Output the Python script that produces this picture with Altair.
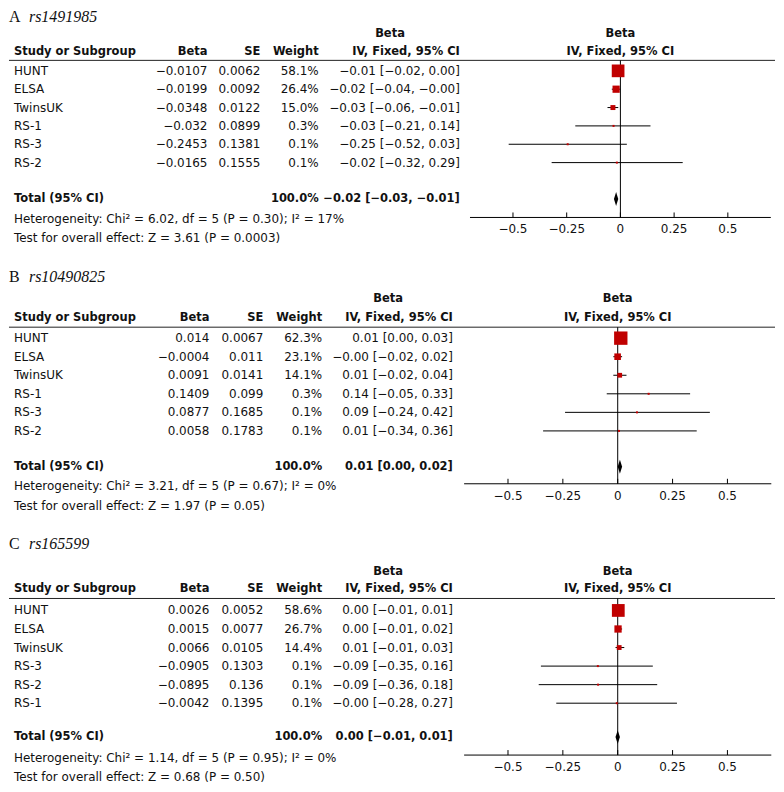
import altair as alt
import pandas as pd

# ---------------- data ----------------
# Panel A  rs1491985
studies_A = ["HUNT", "ELSA", "TwinsUK", "RS-1", "RS-3", "RS-2"]
beta_A = [-0.0107, -0.0199, -0.0348, -0.032, -0.2453, -0.0165]
se_A = [0.0062, 0.0092, 0.0122, 0.0899, 0.1381, 0.1555]
weight_A = [58.1, 26.4, 15.0, 0.3, 0.1, 0.1]
est_A = [-0.01, -0.02, -0.03, -0.03, -0.25, -0.02]
lo_A = [-0.02, -0.04, -0.06, -0.21, -0.52, -0.32]
hi_A = [0.00, -0.00, -0.01, 0.14, 0.03, 0.29]
total_A = [-0.02, -0.03, -0.01]
het_A = "Heterogeneity: Chi² = 6.02, df = 5 (P = 0.30); I² = 17%"
test_A = "Test for overall effect: Z = 3.61 (P = 0.0003)"

# Panel B  rs10490825
studies_B = ["HUNT", "ELSA", "TwinsUK", "RS-1", "RS-3", "RS-2"]
beta_B = [0.014, -0.0004, 0.0091, 0.1409, 0.0877, 0.0058]
se_B = [0.0067, 0.011, 0.0141, 0.099, 0.1685, 0.1783]
weight_B = [62.3, 23.1, 14.1, 0.3, 0.1, 0.1]
est_B = [0.01, -0.00, 0.01, 0.14, 0.09, 0.01]
lo_B = [0.00, -0.02, -0.02, -0.05, -0.24, -0.34]
hi_B = [0.03, 0.02, 0.04, 0.33, 0.42, 0.36]
total_B = [0.01, 0.00, 0.02]
het_B = "Heterogeneity: Chi² = 3.21, df = 5 (P = 0.67); I² = 0%"
test_B = "Test for overall effect: Z = 1.97 (P = 0.05)"

# Panel C  rs165599
studies_C = ["HUNT", "ELSA", "TwinsUK", "RS-3", "RS-2", "RS-1"]
beta_C = [0.0026, 0.0015, 0.0066, -0.0905, -0.0895, -0.0042]
se_C = [0.0052, 0.0077, 0.0105, 0.1303, 0.136, 0.1395]
weight_C = [58.6, 26.7, 14.4, 0.1, 0.1, 0.1]
est_C = [0.00, 0.00, 0.01, -0.09, -0.09, -0.00]
lo_C = [-0.01, -0.01, -0.01, -0.35, -0.36, -0.28]
hi_C = [0.01, 0.02, 0.03, 0.16, 0.18, 0.27]
total_C = [0.00, -0.01, 0.01]
het_C = "Heterogeneity: Chi² = 1.14, df = 5 (P = 0.95); I² = 0%"
test_C = "Test for overall effect: Z = 0.68 (P = 0.50)"

tick_values = [-0.5, -0.25, 0, 0.25, 0.5]
tick_labels = ["−0.5", "−0.25", "0", "0.25", "0.5"]
axis_extent = [-0.7, 0.7]

# ---------------- styling / layout ----------------
SANS = "DejaVu Sans"
SERIF = "Liberation Serif"
FS = 12          # regular text
FSB = 11.5       # bold text
TXT = "#111111"
RED = "#c00000"
W = 768


def m(s):
    return s.replace("-", "−")


def txt(text, x, y, align="left", bold=False, size=None, font=SANS, italic=False):
    if size is None:
        size = FSB if bold else FS
    return alt.Chart(pd.DataFrame({"t": [text]})).mark_text(
        align=align, baseline="middle", fontSize=size, font=font,
        fontWeight="bold" if bold else "normal",
        fontStyle="italic" if italic else "normal", color=TXT,
    ).encode(text="t:N", x=alt.value(x), y=alt.value(y))


def panel(letter, rsid, studies, beta, se, weight, est, lo, hi, total, het, test, L):
    xs = alt.Scale(domain=axis_extent, range=L["fx"], nice=False, zero=False)
    ys = alt.Scale(domain=[0, 1], range=[L["row0"], L["row0"] + L["step"]], nice=False, zero=False)
    total_row = (L["total"] - L["row0"]) / L["step"]

    df = pd.DataFrame({
        "row": list(range(len(studies))),
        "study": studies,
        "beta": beta,
        "lo": lo,
        "hi": hi,
        "weight": weight,
        "beta_s": [m(str(b)) for b in beta],
        "se_s": [str(s) for s in se],
        "w_s": [f"{w:.1f}%" for w in weight],
        "ci_s": [m(f"{e:.2f} [{l:.2f}, {h:.2f}]") for e, l, h in zip(est, lo, hi)],
    })
    Y = alt.Y("row:Q", scale=ys, axis=None)

    layers = []
    # title
    layers.append(txt(letter, L["tx"], L["title"], size=16, font=SERIF))
    layers.append(txt(rsid, L["tx"] + 20, L["title"], size=16, font=SERIF, italic=True))
    # table header
    c = L["cols"]
    layers.append(txt("Beta", c["hdr"], L["h1"], align="center", bold=True))
    layers.append(txt("Study or Subgroup", c["study"], L["h2"], bold=True))
    layers.append(txt("Beta", c["beta"], L["h2"], align="right", bold=True))
    layers.append(txt("SE", c["se"], L["h2"], align="right", bold=True))
    layers.append(txt("Weight", c["w"], L["h2"], align="right", bold=True))
    layers.append(txt("IV, Fixed, 95% CI", c["ci"], L["h2"], align="right", bold=True))
    # forest header centred on zero
    for lab, yy in (("Beta", L["h1"]), ("IV, Fixed, 95% CI", L["h2"])):
        layers.append(
            alt.Chart(pd.DataFrame({"t": [lab]})).mark_text(
                align="center", baseline="middle", fontSize=FSB, font=SANS,
                fontWeight="bold", color=TXT,
            ).encode(text="t:N", x=alt.XDatum(0, scale=xs, axis=None), y=alt.value(yy))
        )
    # header rule
    layers.append(
        alt.Chart(pd.DataFrame({"a": [0]})).mark_rule(color="#222", strokeWidth=1)
        .encode(x=alt.value(0), x2=alt.value(W), y=alt.value(L["rule"]))
    )
    # table rows
    base = alt.Chart(df)
    layers.append(base.mark_text(align="left", baseline="middle", fontSize=FS, font=SANS, color=TXT)
                  .encode(text="study:N", x=alt.value(c["study"]), y=Y))
    for fld, key in (("beta_s", "beta"), ("se_s", "se"), ("w_s", "w"), ("ci_s", "ci")):
        layers.append(base.mark_text(align="right", baseline="middle", fontSize=FS, font=SANS, color=TXT)
                      .encode(text=f"{fld}:N", x=alt.value(c[key]), y=Y))
    # total row & footer text
    tdf = pd.DataFrame({
        "row": [total_row],
        "lab": ["Total (95% CI)"],
        "w": ["100.0%"],
        "ci": [m(f"{total[0]:.2f} [{total[1]:.2f}, {total[2]:.2f}]")],
    })
    tb = alt.Chart(tdf)
    layers.append(tb.mark_text(align="left", baseline="middle", fontSize=FSB, font=SANS, fontWeight="bold", color=TXT)
                  .encode(text="lab:N", x=alt.value(c["study"]), y=Y))
    layers.append(tb.mark_text(align="right", baseline="middle", fontSize=FSB, font=SANS, fontWeight="bold", color=TXT)
                  .encode(text="w:N", x=alt.value(c["w"]), y=Y))
    layers.append(tb.mark_text(align="right", baseline="middle", fontSize=FSB, font=SANS, fontWeight="bold", color=TXT)
                  .encode(text="ci:N", x=alt.value(c["ci"]), y=Y))
    layers.append(txt(het, c["study"], L["het"]))
    layers.append(txt(test, c["study"], L["test"]))

    # zero line
    layers.append(
        alt.Chart(pd.DataFrame({"a": [0]})).mark_rule(color="#000", strokeWidth=1)
        .encode(x=alt.XDatum(0, scale=xs, axis=None), y=alt.value(L["rule"]), y2=alt.value(L["axis"]))
    )
    # CI whiskers
    layers.append(base.mark_rule(color="#000", strokeWidth=1).encode(
        x=alt.X("lo:Q", scale=xs, axis=None), x2="hi:Q", y=Y))
    # squares (area grows with weight)
    layers.append(base.mark_square(color=RED, opacity=1).encode(
        x=alt.X("beta:Q", scale=xs, axis=None), y=Y,
        size=alt.Size("weight:Q", scale=alt.Scale(type="pow", exponent=1.5, domain=[0, 60], range=[4, 170]),
                      legend=None)))
    # diamond for the pooled estimate
    dh = 7.0 / L["step"]
    ddf = pd.DataFrame({
        "x": [total[1], total[0], total[2]],
        "yt": [total_row, total_row - dh, total_row],
        "yb": [total_row, total_row + dh, total_row],
    })
    layers.append(alt.Chart(ddf).mark_area(color="#000", orient="vertical", opacity=1).encode(
        x=alt.X("x:Q", scale=xs, axis=None),
        y=alt.Y("yt:Q", scale=ys, axis=None, stack=None), y2="yb:Q"))
    # axis
    layers.append(
        alt.Chart(pd.DataFrame({"a": [axis_extent[0]], "b": [axis_extent[1]]})).mark_rule(color="#000", strokeWidth=1)
        .encode(x=alt.X("a:Q", scale=xs, axis=None), x2="b:Q", y=alt.value(L["axis"]))
    )
    tk = pd.DataFrame({"v": tick_values, "lab": tick_labels})
    layers.append(alt.Chart(tk).mark_rule(color="#000", strokeWidth=1).encode(
        x=alt.X("v:Q", scale=xs, axis=None), y=alt.value(L["axis"] - 5), y2=alt.value(L["axis"])))
    layers.append(alt.Chart(tk).mark_text(align="center", baseline="middle", fontSize=FS, font=SANS, color=TXT).encode(
        x=alt.X("v:Q", scale=xs, axis=None), y=alt.value(L["ticklab"]), text="lab:N"))

    return alt.layer(*layers).properties(width=W, height=L["height"])


colsA = {"study": 5, "beta": 199, "se": 252, "w": 310.5, "ci": 452, "hdr": 382}
colsBC = {"study": 5, "beta": 201, "se": 255, "w": 314, "ci": 445, "hdr": 380}

LA = dict(height=258, tx=0, title=7, h1=24, h2=42, rule=50.5, row0=61, step=18.4, total=189.5,
          het=209.3, test=229, axis=208, ticklab=220, cols=colsA, fx=[462.2, 763.8])
LB = dict(height=268, tx=0, title=10, h1=32, h2=51, rule=60, row0=71, step=18.6, total=200,
          het=219, test=239, axis=217, ticklab=229, cols=colsBC, fx=[456.3, 764.3])
LC = dict(height=249, tx=0, title=9, h1=37, h2=55, rule=64, row0=76, step=18.6, total=203,
          het=224, test=243, axis=221, ticklab=233, cols=colsBC, fx=[456.3, 764.3])

pA = panel("A", "rs1491985", studies_A, beta_A, se_A, weight_A, est_A, lo_A, hi_A, total_A, het_A, test_A, LA)
pB = panel("B", "rs10490825", studies_B, beta_B, se_B, weight_B, est_B, lo_B, hi_B, total_B, het_B, test_B, LB)
pC = panel("C", "rs165599", studies_C, beta_C, se_C, weight_C, est_C, lo_C, hi_C, total_C, het_C, test_C, LC)

chart = alt.vconcat(pA, pB, pC, spacing=0).resolve_scale(x="independent", y="independent").properties(
    padding=0
).configure_view(stroke=None)

chart.save("out.html", embed_options={"renderer": "svg", "actions": False})
